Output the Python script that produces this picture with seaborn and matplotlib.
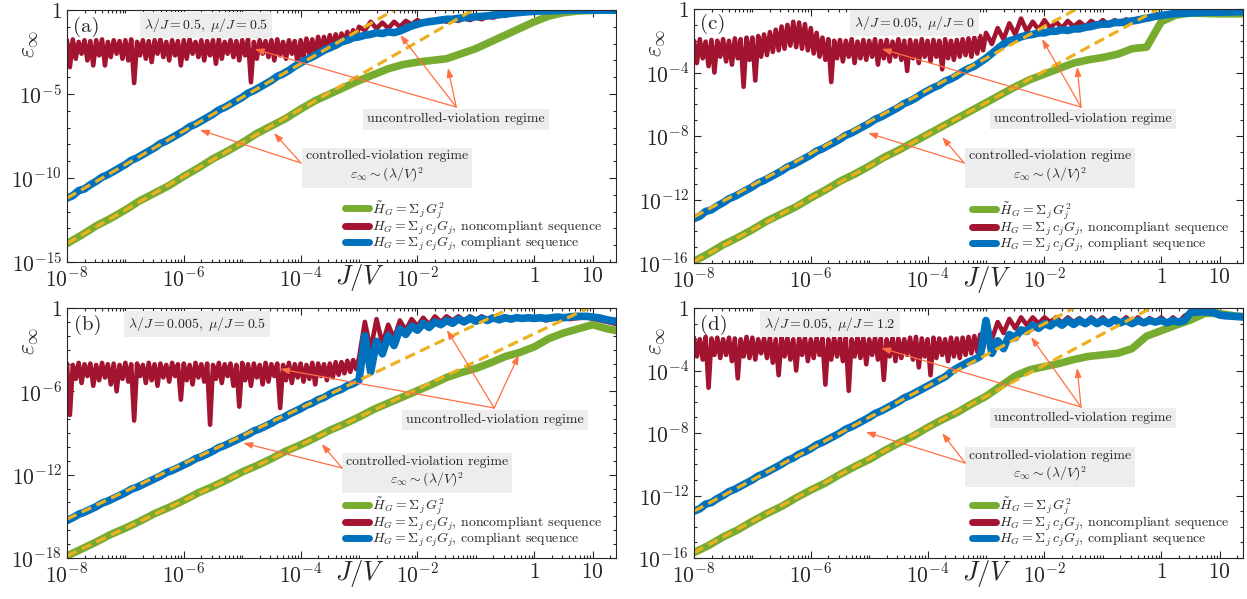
import numpy as np
import seaborn as sns
import matplotlib.pyplot as plt
from matplotlib.lines import Line2D
from matplotlib.ticker import LogLocator, NullFormatter

# log10(J/V) grids: red uses 0.05 decade up to 1e-3 then 0.1, blue 0.1, green 0.25
log_x_red = np.r_[np.linspace(-8, -3, 101), np.linspace(-2.9, 1.5, 45)]
log_x_fine = np.linspace(-8, 1.5, 96)
log_x_coarse = np.linspace(-8, 1.5, 39)

# ---- panel (a) : lambda/J = 0.5, mu/J = 0.5 ----  (values are log10 eps)
a_green = [-13.9, -13.4, -12.85, -12.4, -11.9, -11.35, -10.9, -10.45, -9.9, -9.4,
           -8.85, -8.4, -7.9, -7.35, -6.9, -6.45, -5.9, -5.4, -5.0, -4.6,
           -4.2, -3.85, -3.5, -3.25, -3.1, -3.0, -2.9, -2.6, -2.3, -1.9,
           -1.5, -1.1, -0.7, -0.36, -0.16, -0.06, -0.02, -0.01, -0.01]
a_red = [-1.8, -3.4, -1.75, -2.9, -1.9, -2.6, -1.8, -3.0, -1.85, -3.3,
         -1.8, -2.7, -1.75, -3.3, -1.9, -2.8, -1.8, -2.6, -1.85, -2.9,
         -1.8, -3.0, -1.75, -4.35, -1.9, -2.7, -1.8, -2.9, -1.85, -3.1,
         -1.8, -2.6, -1.75, -2.8, -1.9, -3.0, -1.8, -2.7, -1.85, -3.3,
         -1.8, -2.9, -1.75, -2.6, -1.9, -2.8, -1.8, -3.0, -1.85, -2.7,
         -1.8, -3.2, -1.75, -2.9, -1.9, -2.6, -1.8, -2.8, -1.85, -3.0,
         -1.8, -2.7, -1.75, -4.3, -1.9, -2.9, -1.8, -2.6, -1.85, -2.8,
         -1.8, -3.0, -1.75, -2.7, -1.9, -2.9, -1.8, -2.6, -1.85, -3.3,
         -1.8, -2.8, -1.7, -2.6, -1.75, -2.7, -1.6, -2.5, -1.6, -2.4,
         -1.5, -2.2, -1.45, -2.1, -1.4, -1.9, -1.3, -1.8, -1.2, -1.6,
         -1.0,
         -1.2, -0.7, -1.1, -0.75, -1.1, -0.7, -1.0, -0.65, -0.85,
         -0.6, -0.8, -0.6, -0.7, -0.55, -0.7, -0.5, -0.65, -0.5, -0.6,
         -0.45, -0.55, -0.4, -0.45, -0.3, -0.35, -0.2, -0.2, -0.1, -0.08,
         -0.05, -0.03, -0.02, -0.02, -0.01, -0.01, -0.01, -0.01, -0.01, -0.01,
         -0.01, -0.01, -0.01, -0.01, -0.01, -0.01]
a_blue = [-11.2, -11.05, -10.75, -10.65, -10.4, -10.2, -9.95, -9.8, -9.6, -9.4,
          -9.2, -8.95, -8.8, -8.6, -8.4, -8.2, -7.95, -7.8, -7.6, -7.4,
          -7.2, -6.95, -6.8, -6.6, -6.4, -6.2, -5.95, -5.8, -5.6, -5.4,
          -5.2, -4.95, -4.8, -4.6, -4.4, -4.2, -3.95, -3.8, -3.6, -3.35,
          -3.15, -2.95, -2.8, -2.6, -2.4, -2.25, -2.1, -1.9, -1.8, -1.65,
          -1.6, -1.5, -1.45, -1.35, -1.4, -1.3, -1.35, -1.25, -1.1, -0.95,
          -0.85, -0.75, -0.7, -0.65, -0.6, -0.55, -0.55, -0.5, -0.45, -0.45,
          -0.4, -0.38, -0.35, -0.3, -0.28, -0.24, -0.2, -0.16, -0.13, -0.1,
          -0.08, -0.06, -0.05, -0.04, -0.03, -0.02, -0.01, -0.01, -0.01, -0.01,
          -0.01, -0.01, -0.01, -0.01, -0.01, -0.01]
a_fit_x = [[-8, -2.4], [-8, -1.05]]
a_fit_y = [[-11.2, 0], [-13.9, 0]]

# ---- panel (b) : lambda/J = 0.005, mu/J = 0.5 ----
b_green = [-17.85, -17.35, -16.85, -16.3, -15.85, -15.35, -14.8, -14.35, -13.85, -13.3,
           -12.85, -12.35, -11.8, -11.35, -10.85, -10.3, -9.85, -9.35, -8.8, -8.35,
           -7.85, -7.3, -6.85, -6.4, -5.95, -5.5, -5.0, -4.65, -4.35, -3.95,
           -3.5, -3.2, -2.8, -2.2, -1.8, -1.5, -1.2, -1.5, -1.7]
b_red = [-4.0, -7.7, -4.1, -5.1, -3.95, -5.4, -4.05, -4.9, -4.0, -5.6,
         -4.1, -5.2, -3.95, -5.0, -4.05, -5.5, -4.0, -6.0, -4.1, -5.1,
         -3.95, -5.3, -4.05, -8.1, -4.0, -4.9, -4.1, -5.4, -3.95, -5.2,
         -4.05, -5.6, -4.0, -5.0, -4.1, -5.3, -3.95, -4.9, -4.05, -6.6,
         -4.0, -5.2, -4.1, -5.5, -3.95, -5.0, -4.05, -5.3, -4.0, -8.4,
         -4.1, -5.1, -3.95, -5.4, -4.05, -4.9, -4.0, -5.6, -4.1, -7.1,
         -3.95, -5.2, -4.05, -5.6, -4.0, -5.0, -4.1, -5.5, -3.95, -5.3,
         -4.05, -4.9, -4.0, -7.2, -4.1, -5.2, -3.95, -5.4, -4.05, -5.0,
         -4.0, -5.3, -4.1, -5.1, -3.95, -5.5, -4.0, -4.9, -4.05, -5.2,
         -4.0, -5.0, -3.9, -4.8, -3.9, -4.7, -3.8, -4.6, -3.75, -4.4,
         -3.6,
         -1.0, -3.0, -0.8, -2.6, -1.2, -2.2, -0.9, -1.6, -0.8,
         -1.3, -0.7, -1.2, -0.6, -1.0, -0.6, -0.9, -0.6, -0.9, -0.6,
         -0.85, -0.6, -0.8, -0.6, -0.8, -0.6, -0.8, -0.65, -0.8, -0.7,
         -0.8, -0.75, -0.9, -0.8, -0.75, -0.7, -0.8, -0.75, -0.7, -0.7,
         -0.75, -0.85, -0.95, -1.05, -1.15, -1.25]
b_blue = [-15.3, -15.1, -14.85, -14.7, -14.5, -14.3, -14.05, -13.9, -13.7, -13.5,
          -13.3, -13.05, -12.9, -12.7, -12.5, -12.3, -12.1, -11.85, -11.7, -11.5,
          -11.3, -11.1, -10.85, -10.7, -10.5, -10.3, -10.05, -9.9, -9.7, -9.5,
          -9.3, -9.1, -8.85, -8.7, -8.5, -8.3, -8.05, -7.9, -7.65, -7.45,
          -7.25, -7.0, -6.85, -6.6, -6.45, -6.2, -6.0, -5.85, -5.6, -5.45,
          -5.2, -2.0, -4.6, -2.4, -3.3, -2.0, -2.7, -1.5, -1.9, -1.3,
          -1.6, -1.1, -1.4, -1.0, -1.2, -0.9, -1.1, -0.8, -1.0, -0.75,
          -0.95, -0.75, -0.9, -0.7, -0.85, -0.7, -0.8, -0.7, -0.75, -0.7,
          -0.75, -0.7, -0.75, -0.7, -0.65, -0.7, -0.65, -0.6, -0.6, -0.6,
          -0.65, -0.7, -0.8, -0.9, -0.95, -1.0]
b_fit_x = [[-8, -0.4], [-8, 0.925]]
b_fit_y = [[-15.2, 0], [-17.85, 0]]

# ---- panel (c) : lambda/J = 0.05, mu/J = 0 ----
c_green = [-15.9, -15.4, -14.85, -14.4, -13.9, -13.35, -12.9, -12.45, -11.9, -11.4,
           -10.85, -10.4, -9.9, -9.35, -8.9, -8.4, -7.9, -7.4, -6.9, -6.4,
           -5.9, -5.4, -4.9, -4.45, -4.1, -3.75, -3.4, -3.2, -3.05, -2.85,
           -2.5, -2.4, -0.8, -0.38, -0.25, -0.28, -0.3, -0.3, -0.3]
c_red = [-2.0, -3.4, -1.9, -3.1, -2.05, -3.6, -1.95, -4.0, -2.0, -3.0,
         -1.9, -3.3, -2.0, -3.5, -1.85, -3.1, -1.9, -4.9, -1.8, -3.2,
         -1.8, -4.5, -1.7, -3.0, -1.6, -2.9, -1.45, -2.7, -1.3, -2.6,
         -1.1, -2.5, -1.0, -2.3, -0.8, -2.4, -0.85, -2.5, -0.95, -2.6,
         -1.2, -2.8, -1.5, -3.0, -1.8, -3.2, -1.9, -4.6, -2.0, -3.1,
         -1.95, -3.3, -2.0, -3.0, -1.9, -3.4, -2.05, -3.1, -1.95, -3.2,
         -2.0, -3.0, -1.9, -3.5, -2.0, -3.1, -1.95, -3.3, -2.05, -3.0,
         -1.9, -3.2, -2.0, -3.9, -1.95, -3.1, -2.0, -3.4, -1.9, -3.0,
         -2.0, -3.3, -1.95, -3.0, -2.0, -3.8, -1.9, -3.1, -2.0, -3.2,
         -1.95, -3.0, -1.9, -2.9, -1.85, -3.0, -1.8, -2.8, -1.7, -2.6,
         -1.5,
         -2.2, -1.2, -1.9, -0.9, -1.6, -0.6, -1.4, -0.8, -1.3,
         -0.7, -1.2, -0.8, -1.2, -0.75, -1.1, -0.8, -1.1, -0.75, -1.0,
         -0.7, -1.0, -0.7, -0.9, -0.65, -0.85, -0.6, -0.7, -0.5, -0.55,
         -0.35, -0.3, -0.25, -0.25, -0.2, -0.2, -0.2, -0.2, -0.2, -0.2,
         -0.2, -0.2, -0.2, -0.2, -0.2, -0.2]
c_blue = [-13.2, -13.05, -12.75, -12.65, -12.4, -12.2, -11.95, -11.8, -11.6, -11.4,
          -11.2, -10.95, -10.8, -10.6, -10.4, -10.2, -9.95, -9.8, -9.6, -9.4,
          -9.2, -8.95, -8.8, -8.6, -8.4, -8.2, -7.95, -7.8, -7.6, -7.4,
          -7.2, -6.95, -6.8, -6.6, -6.4, -6.2, -5.95, -5.8, -5.6, -5.35,
          -5.15, -4.95, -4.8, -4.55, -4.4, -4.2, -3.95, -3.75, -3.6, -3.35,
          -3.1, -2.8, -2.5, -2.2, -2.0, -1.9, -1.75, -1.65, -1.6, -1.5,
          -1.5, -1.4, -1.4, -1.3, -1.35, -1.25, -1.25, -1.15, -1.1, -1.0,
          -0.95, -0.95, -0.85, -0.85, -0.8, -0.75, -0.7, -0.6, -0.55, -0.45,
          -0.4, -0.35, -0.3, -0.28, -0.26, -0.25, -0.23, -0.22, -0.2, -0.2,
          -0.2, -0.19, -0.18, -0.17, -0.17, -0.17]
c_fit_x = [[-8, -1.45], [-8, -0.05]]
c_fit_y = [[-13.1, 0], [-15.9, 0]]

# ---- panel (d) : lambda/J = 0.05, mu/J = 1.2 ----
d_green = [-15.65, -15.2, -14.65, -14.2, -13.65, -13.15, -12.7, -12.15, -11.65, -11.2,
           -10.65, -10.15, -9.7, -9.15, -8.65, -8.2, -7.65, -7.15, -6.7, -6.15,
           -5.65, -5.0, -4.35, -3.95, -3.75, -3.55, -3.3, -3.1, -3.0, -2.9,
           -2.6, -1.8, -1.45, -1.1, -0.77, -0.34, -0.35, -0.5, -0.58]
d_red = [-1.9, -3.1, -2.0, -3.3, -1.85, -5.1, -1.95, -3.0, -1.9, -3.2,
         -2.0, -3.0, -1.9, -3.4, -1.95, -4.5, -2.0, -3.1, -1.85, -3.2,
         -1.9, -3.3, -2.0, -2.9, -1.95, -3.2, -1.9, -3.5, -2.0, -4.3,
         -1.85, -3.1, -1.9, -3.3, -2.0, -4.0, -1.95, -3.0, -1.9, -3.4,
         -2.0, -3.2, -1.9, -3.0, -1.95, -4.9, -2.0, -3.3, -1.9, -3.1,
         -1.95, -3.4, -1.9, -5.3, -2.0, -3.1, -1.85, -3.2, -1.9, -3.6,
         -2.0, -3.0, -1.9, -3.3, -1.95, -4.6, -2.0, -3.1, -1.9, -3.4,
         -1.95, -3.2, -2.0, -3.0, -1.9, -3.3, -1.85, -3.8, -1.95, -3.1,
         -2.0, -4.3, -1.9, -3.2, -1.95, -3.0, -2.0, -3.4, -1.9, -3.1,
         -1.95, -3.2, -1.9, -3.0, -1.85, -2.9, -1.8, -2.8, -1.7, -2.6,
         -1.4,
         -2.0, -0.9, -1.6, -0.7, -1.3, -0.6, -1.1, -0.6, -1.0,
         -0.6, -0.9, -0.6, -0.95, -0.6, -0.9, -0.65, -0.95, -0.6, -0.9,
         -0.6, -0.95, -0.65, -0.9, -0.6, -0.95, -0.6, -0.9, -0.65, -0.9,
         -0.6, -0.95, -0.6, -0.9, -0.5, -0.3, -0.25, -0.25, -0.3, -0.35,
         -0.45, -0.5, -0.5, -0.55, -0.55, -0.55]
d_blue = [-13.0, -12.85, -12.55, -12.45, -12.2, -12.0, -11.75, -11.6, -11.4, -11.2,
          -11.0, -10.75, -10.6, -10.4, -10.2, -10.0, -9.75, -9.6, -9.35, -9.2,
          -9.0, -8.75, -8.6, -8.4, -8.2, -8.0, -7.75, -7.6, -7.4, -7.2,
          -7.0, -6.75, -6.6, -6.4, -6.2, -6.0, -5.75, -5.6, -5.4, -5.2,
          -5.0, -4.8, -4.6, -4.4, -4.1, -3.85, -3.65, -3.45, -3.3, -3.1,
          -0.8, -2.9, -2.1, -2.6, -1.7, -1.9, -1.4, -1.5, -1.1, -1.3,
          -1.0, -1.15, -0.85, -1.1, -0.8, -1.05, -0.8, -1.0, -0.75, -1.0,
          -0.8, -1.0, -0.75, -0.95, -0.8, -1.0, -0.8, -0.95, -0.8, -0.9,
          -0.8, -0.95, -0.8, -0.9, -0.8, -0.3, -0.25, -0.25, -0.25, -0.3,
          -0.45, -0.5, -0.52, -0.55, -0.57, -0.58]
d_fit_x = [[-8, -1.5], [-8, -0.175]]
d_fit_y = [[-13.0, 0], [-15.65, 0]]

panel_tags = ['(a)', '(b)', '(c)', '(d)']
param_labels = [r'$\lambda/J=0.5,\ \mu/J=0.5$', r'$\lambda/J=0.005,\ \mu/J=0.5$',
                r'$\lambda/J=0.05,\ \mu/J=0$', r'$\lambda/J=0.05,\ \mu/J=1.2$']
y_bottoms = [-15, -18, -16, -16]
y_labelled = [[-15, -10, -5, 0], [-18, -12, -6, 0], [-16, -12, -8, -4, 0], [-16, -12, -8, -4, 0]]
x_labelled = [-8, -6, -4, -2, 0, 1]
legend_labels = [r'$\tilde{H}_G=\Sigma_j\, G_j^2$',
                 r'$H_G=\Sigma_j\, c_jG_j$, noncompliant sequence',
                 r'$H_G=\Sigma_j\, c_jG_j$, compliant sequence']

GREEN, RED, BLUE = '#77AC30', '#A2142F', '#0072BD'
FIT = '#EDB120'
ARROW = '#FF7043'
BOXC = '#EDEDED'

sns.set_theme(style='ticks')
plt.rcParams['mathtext.fontset'] = 'cm'
plt.rcParams['font.family'] = 'serif'
plt.rcParams['font.serif'] = ['cmr10', 'DejaVu Serif']
plt.rcParams['axes.formatter.use_mathtext'] = True
plt.rcParams['axes.unicode_minus'] = False

fig = plt.figure(figsize=(12.47, 5.99), dpi=100)
rects = [[0.0537, 0.5626, 0.4403, 0.4207], [0.0537, 0.0684, 0.4403, 0.4174],
         [0.5565, 0.5609, 0.4403, 0.4240], [0.5565, 0.0684, 0.4403, 0.4174]]

panels = [(a_green, a_red, a_blue, a_fit_x, a_fit_y),
          (b_green, b_red, b_blue, b_fit_x, b_fit_y),
          (c_green, c_red, c_blue, c_fit_x, c_fit_y),
          (d_green, d_red, d_blue, d_fit_x, d_fit_y)]

# annotation layout (axes fractions)
layout = [
    dict(tag=(0.036, 0.933), par=(0.253, 0.94), unc=(0.709, 0.567), unc_src=(0.709, 0.615),
         unc_t=[(0.342, 0.845), (0.607, 0.901), (0.694, 0.770)],
         ctl=(0.583, 0.377), ctl_src=(0.426, 0.393), ctl_t=[(0.242, 0.524), (0.377, 0.512)]),
    dict(tag=(0.038, 0.932), par=(0.237, 0.936), unc=(0.780, 0.552), unc_src=(0.778, 0.600),
         unc_t=[(0.388, 0.756), (0.692, 0.912), (0.823, 0.812)],
         ctl=(0.656, 0.344), ctl_src=(0.501, 0.360), ctl_t=[(0.321, 0.460), (0.464, 0.456)]),
    dict(tag=(0.035, 0.941), par=(0.401, 0.945), unc=(0.709, 0.567), unc_src=(0.705, 0.614),
         unc_t=[(0.342, 0.843), (0.634, 0.882), (0.698, 0.772)],
         ctl=(0.648, 0.378), ctl_src=(0.492, 0.394), ctl_t=[(0.317, 0.512), (0.452, 0.496)]),
    dict(tag=(0.036, 0.932), par=(0.248, 0.936), unc=(0.709, 0.560), unc_src=(0.705, 0.604),
         unc_t=[(0.341, 0.840), (0.614, 0.884), (0.698, 0.760)],
         ctl=(0.648, 0.368), ctl_src=(0.494, 0.380), ctl_t=[(0.313, 0.504), (0.452, 0.500)]),
]

arrow_kw = dict(arrowstyle='-|>,head_length=0.45,head_width=0.16', color=ARROW, lw=0.9,
                shrinkA=0, shrinkB=0, mutation_scale=12)

for i, (green, red, blue, fx, fy) in enumerate(panels):
    ax = fig.add_axes(rects[i])
    ax.set_xscale('log')
    ax.set_yscale('log')

    sns.lineplot(x=10 ** log_x_coarse, y=10 ** np.array(green), ax=ax, color=GREEN,
                 linewidth=5.5, estimator=None, sort=False)
    sns.lineplot(x=10 ** log_x_red, y=10 ** np.array(red), ax=ax, color=RED,
                 linewidth=3.3, estimator=None, sort=False)
    sns.lineplot(x=10 ** log_x_fine, y=10 ** np.array(blue), ax=ax, color=BLUE,
                 linewidth=5.5, estimator=None, sort=False)
    for xs, ys in zip(fx, fy):
        sns.lineplot(x=10 ** np.array(xs, float), y=10 ** np.array(ys, float), ax=ax,
                     color=FIT, linewidth=2.3, linestyle=(0, (3.3, 1.8)),
                     estimator=None, sort=False)

    ax.set_xlim(1e-8, 10 ** 1.4)
    ax.set_ylim(10.0 ** y_bottoms[i], 1)
    ax.set_xticks([10.0 ** k for k in x_labelled],
                  [r'$1$' if k == 0 else (r'$10$' if k == 1 else r'$10^{%d}$' % k) for k in x_labelled])
    ax.set_yticks([10.0 ** k for k in y_labelled[i]],
                  [r'$1$' if k == 0 else r'$10^{%d}$' % k for k in y_labelled[i]])
    ax.xaxis.set_minor_locator(LogLocator(base=10, subs=np.arange(1, 10), numticks=200))
    ax.yaxis.set_minor_locator(LogLocator(base=10, subs=(1.0,), numticks=200))
    ax.xaxis.set_minor_formatter(NullFormatter())
    ax.yaxis.set_minor_formatter(NullFormatter())
    ax.tick_params(which='both', direction='in', top=True, right=True, colors='#262626',
                   width=0.8, labelsize=15.5)
    ax.tick_params(which='major', length=5)
    ax.tick_params(which='minor', length=2.5)
    for s in ax.spines.values():
        s.set_color('#262626')
        s.set_linewidth(0.8)
    ax.set_xlabel('')
    ax.set_ylabel('')

    ax.text(0.534, -0.063, r'$J/V$', transform=ax.transAxes, ha='center', va='center', fontsize=19)
    ax.text(-0.069, 0.868, r'$\varepsilon_\infty$', transform=ax.transAxes, rotation=90,
            ha='center', va='center', fontsize=17)

    L = layout[i]
    ax.text(*L['tag'], panel_tags[i], transform=ax.transAxes, ha='center', va='center', fontsize=15)
    ax.text(*L['par'], param_labels[i], transform=ax.transAxes, ha='center', va='center',
            fontsize=10, bbox=dict(boxstyle='square,pad=0.3', fc=BOXC, ec='none'))
    ax.text(*L['unc'], 'uncontrolled-violation regime', transform=ax.transAxes,
            ha='center', va='center', fontsize=10,
            bbox=dict(boxstyle='square,pad=0.3', fc=BOXC, ec='none'))
    ax.text(*L['ctl'], 'controlled-violation regime\n' + r'$\varepsilon_\infty\sim(\lambda/V)^2$',
            transform=ax.transAxes, ha='center', va='center', fontsize=10, multialignment='center',
            linespacing=1.25, bbox=dict(boxstyle='square,pad=0.3', fc=BOXC, ec='none'))
    for t in L['unc_t']:
        ax.annotate('', xy=t, xytext=L['unc_src'], xycoords='axes fraction',
                    textcoords='axes fraction', arrowprops=arrow_kw)
    for t in L['ctl_t']:
        ax.annotate('', xy=t, xytext=L['ctl_src'], xycoords='axes fraction',
                    textcoords='axes fraction', arrowprops=arrow_kw)

    handles = [Line2D([], [], color=c, lw=5) for c in (GREEN, RED, BLUE)]
    ax.legend(handles, legend_labels, loc='lower right', bbox_to_anchor=(0.975, 0.035),
              frameon=False, fontsize=10, handlelength=1.75, handletextpad=0.2,
              labelspacing=-0.15, borderpad=0, borderaxespad=0)

fig.savefig('out.png', dpi=100)
